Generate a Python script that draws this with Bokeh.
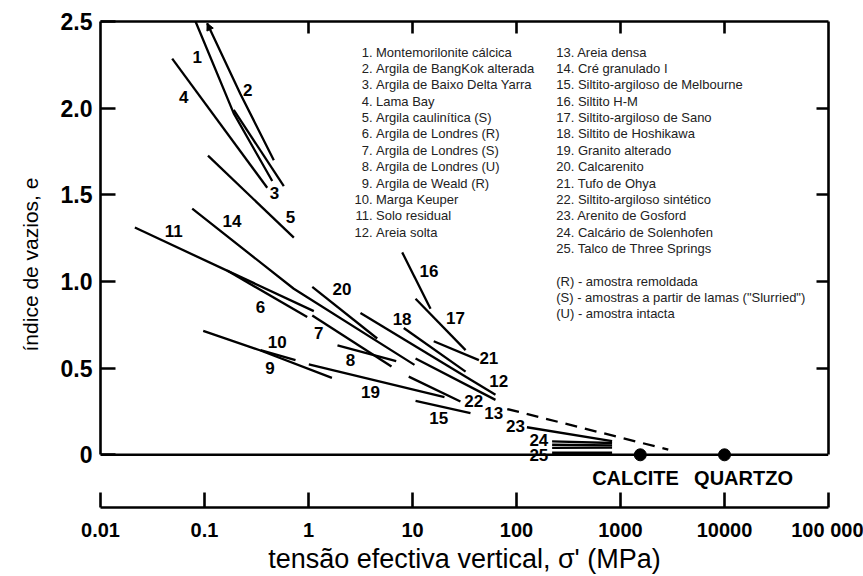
from bokeh.plotting import figure
from bokeh.models import (Range1d, LogAxis, LinearAxis, FixedTicker, Span,
                          ColumnDataSource, Arrow, NormalHead)
from bokeh.core.properties import value
from bokeh.embed import file_html
from bokeh.resources import INLINE

# ---------------- data (stress in MPa, void ratio e) ----------------
curve_names = ["1", "2", "3", "4", "5", "6", "7", "8", "9", "10", "11", "12",
               "13", "14", "15", "16", "17", "18", "19", "20", "21", "22",
               "23", "24a", "24b", "25a", "25b"]
curve_s = [
    [0.082, 0.191, 0.448],      # 1
    [0.106, 0.222, 0.464],      # 2
    [0.191, 0.579],             # 3
    [0.0489, 0.401],            # 4
    [0.108, 0.723],             # 5
    [0.165, 0.972],             # 6
    [1.087, 6.28],              # 7
    [1.90, 6.97],               # 8
    [0.0972, 0.3455, 1.68],     # 9
    [0.3455, 0.75],             # 10
    [0.0214, 1.125],            # 11
    [3.16, 62.8],               # 12
    [10.7, 62.8],               # 13
    [0.0762, 0.722, 10.45],     # 14
    [10.7, 36.1],               # 15
    [7.96, 14.9],               # 16
    [10.7, 32.4],               # 17
    [8.24, 32.4],               # 18
    [1.007, 20.3],              # 19
    [1.087, 4.58],              # 20
    [16.0, 43.5],               # 21
    [9.2, 28.9],                # 22
    [126, 830],                 # 23
    [220, 830],                 # 24
    [220, 830],                 # 24
    [220, 830],                 # 25
    [220, 830],                 # 25
]
curve_e = [
    [2.50, 1.97, 1.58],
    [2.49, 2.08, 1.70],
    [1.99, 1.55],
    [2.286, 1.541],
    [1.726, 1.253],
    [1.063, 0.795],
    [0.804, 0.510],
    [0.631, 0.541],
    [0.715, 0.602, 0.444],
    [0.604, 0.546],
    [1.311, 0.829],
    [0.818, 0.346],
    [0.556, 0.317],
    [1.420, 0.958, 0.519],
    [0.311, 0.241],
    [1.168, 0.843],
    [0.900, 0.604],
    [0.732, 0.480],
    [0.522, 0.333],
    [0.969, 0.671],
    [0.655, 0.546],
    [0.451, 0.308],
    [0.159, 0.079],
    [0.078, 0.068],
    [0.058, 0.054],
    [0.040, 0.042],
    [0.012, 0.012],
]

# extrapolated (dashed) trend
dash_s = [81.5, 2880]
dash_e = [0.264, 0.030]

# curve number labels
label_text = [str(i) for i in range(1, 26)]
label_s = [0.0849, 0.2606, 0.471, 0.0632, 0.671, 0.3455, 1.256, 2.53, 0.425,
           0.50, 0.0507, 67.6, 60.5, 0.184, 17.9, 14.4, 25.9, 7.94, 3.94,
           2.10, 54.2, 38.8, 97.7, 164, 164]
label_e = [2.295, 2.104, 1.512, 2.066, 1.372, 0.853, 0.700, 0.546, 0.499,
           0.652, 1.292, 0.423, 0.241, 1.349, 0.212, 1.059, 0.791, 0.786,
           0.361, 0.958, 0.556, 0.308, 0.165, 0.088, 0.0]

# minerals
mineral_names = ["CALCITE", "QUARTZO"]
mineral_s = [1550, 10000]
mineral_e = [0.0, 0.0]
mineral_label_s = [1393, 15250]
mineral_label_e = [-0.132, -0.132]

# legend
legend_col1 = ["Montemorilonite cálcica", "Argila de BangKok alterada",
               "Argila de Baixo Delta Yarra", "Lama Bay",
               "Argila caulinítica (S)", "Argila de Londres (R)",
               "Argila de Londres (S)", "Argila de Londres (U)",
               "Argila de Weald (R)", "Marga Keuper", "Solo residual",
               "Areia solta"]
legend_col2 = ["Areia densa", "Cré granulado I",
               "Siltito-argiloso de Melbourne", "Siltito H-M",
               "Siltito-argiloso de Sano", "Siltito de Hoshikawa",
               "Granito alterado", "Calcarenito", "Tufo de Ohya",
               "Siltito-argiloso sintético", "Arenito de Gosford",
               "Calcário de Solenhofen", "Talco de Three Springs"]
legend_notes = ["(R) - amostra remoldada",
                "(S) - amostras a partir de  lamas (\"Slurried\")",
                "(U) - amostra intacta"]

x_ticks = [0.01, 0.1, 1, 10, 100, 1000, 10000, 100000]
x_tick_labels = ["0.01", "0.1", "1", "10", "100", "1000", "10000", "100 000"]
y_ticks = [0, 0.5, 1, 1.5, 2, 2.5]
y_tick_labels = ["0", "0.5", "1.0", "1.5", "2.0", "2.5"]
top_ticks = [1, 10, 100, 1000, 10000]
right_ticks = [0.5, 1, 1.5, 2]

# ---------------- figure ----------------
FONT = "Liberation Sans"
p = figure(width=863, height=576, x_axis_type="log",
           x_range=Range1d(0.01, 100000), y_range=Range1d(-0.304, 2.5),
           output_backend="svg", toolbar_location=None,
           min_border_left=100, min_border_right=35, min_border_top=21,
           min_border_bottom=66)
p.outline_line_color = None
p.grid.visible = False
p.background_fill_color = "white"

AXW = 2.6


def key(v):
    return int(v) if float(v).is_integer() else v


xa = p.xaxis[0]
xa.ticker = FixedTicker(ticks=x_ticks)
xa.major_label_overrides = {key(t): l for t, l in zip(x_ticks, x_tick_labels)}
xa.major_tick_in = 15
xa.major_tick_out = 0
xa.minor_tick_line_color = None
xa.axis_line_width = AXW
xa.major_tick_line_width = AXW
xa.major_label_text_font = FONT
xa.major_label_text_font_style = "bold"
xa.major_label_text_font_size = "20px"
xa.major_label_text_color = "black"
xa.major_label_standoff = 11
xa.axis_label = "tensão efectiva vertical, σ' (MPa)"
xa.axis_label_text_font = FONT
xa.axis_label_text_font_style = "normal"
xa.axis_label_text_font_size = "27px"
xa.axis_label_text_color = "black"
xa.axis_label_standoff = 0

ya = p.yaxis[0]
ya.ticker = FixedTicker(ticks=y_ticks)
ya.major_label_overrides = {key(t): l for t, l in zip(y_ticks, y_tick_labels)}
ya.bounds = (0, 2.5)
ya.major_tick_in = 15
ya.major_tick_out = 0
ya.minor_tick_line_color = None
ya.axis_line_width = AXW
ya.major_tick_line_width = AXW
ya.major_label_text_font = FONT
ya.major_label_text_font_style = "bold"
ya.major_label_text_font_size = "23px"
ya.major_label_text_color = "black"
ya.major_label_standoff = 8
ya.axis_label = "índice de vazios, e"
ya.axis_label_text_font = FONT
ya.axis_label_text_font_style = "normal"
ya.axis_label_text_font_size = "21px"
ya.axis_label_text_color = "black"
ya.axis_label_standoff = 16

top = LogAxis(ticker=FixedTicker(ticks=top_ticks), major_tick_in=12,
              major_tick_out=0, minor_tick_line_color=None,
              axis_line_width=AXW, major_tick_line_width=AXW,
              major_label_overrides={t: " " for t in top_ticks},
              major_label_text_font_size="2px", major_label_standoff=0)
p.add_layout(top, "above")

right = LinearAxis(ticker=FixedTicker(ticks=right_ticks), bounds=(0, 2.5),
                   major_tick_in=12, major_tick_out=0,
                   minor_tick_line_color=None, axis_line_width=AXW,
                   major_tick_line_width=AXW,
                   major_label_overrides={key(t): " " for t in right_ticks},
                   major_label_text_font_size="2px", major_label_standoff=0)
p.add_layout(right, "right")

p.add_layout(Span(location=0, dimension="width", line_color="black",
                  line_width=AXW))

# curves
for s, e in zip(curve_s, curve_e):
    p.line(s, e, line_color="black", line_width=2.3)
p.line(dash_s, dash_e, line_color="black", line_width=2.3, line_dash="12 8")

# arrow at top of curve 2
p.add_layout(Arrow(end=NormalHead(size=7, fill_color="black", line_color="black"),
                   x_start=curve_s[1][1], y_start=curve_e[1][1],
                   x_end=curve_s[1][0], y_end=curve_e[1][0],
                   line_alpha=0))

# white gap behind label 25 on the base line
p.rect(x=[label_s[24]], y=[label_e[24]], width=26, height=18,
       width_units="screen", height_units="screen", fill_color="white",
       line_color=None)

# number labels
src = ColumnDataSource(dict(x=label_s, y=label_e, t=label_text))
p.text(x="x", y="y", text="t", source=src, text_align="center",
       text_baseline="middle", text_font=value(FONT), text_font_style="bold",
       text_font_size="17px", text_color="black")

# minerals
p.scatter(mineral_s, mineral_e, size=12, color="black")
p.text(x=mineral_label_s, y=mineral_label_e, text=mineral_names,
       text_align="center", text_baseline="middle", text_font=value(FONT),
       text_font_style="bold", text_font_size="20px", text_color="black")

# legend text
e0, de = 2.324, 0.0946
c1_num_x, c1_name_x, c2_x = 4.125, 4.457, 241
p.text(x=[c1_num_x] * len(legend_col1),
       y=[e0 - de * i for i in range(len(legend_col1))],
       text=[f"{i + 1}." for i in range(len(legend_col1))],
       text_align="right", text_baseline="middle", text_font=value(FONT),
       text_font_size="13px", text_color="#222222")
p.text(x=[c1_name_x] * len(legend_col1),
       y=[e0 - de * i for i in range(len(legend_col1))],
       text=legend_col1, text_align="left", text_baseline="middle",
       text_font=value(FONT), text_font_size="13px", text_color="#222222")
p.text(x=[c2_x] * len(legend_col2),
       y=[e0 - de * i for i in range(len(legend_col2))],
       text=[f"{i + 13}. {n}" for i, n in enumerate(legend_col2)],
       text_align="left", text_baseline="middle", text_font=value(FONT),
       text_font_size="13px", text_color="#222222")
p.text(x=[c2_x] * len(legend_notes), y=[1.002, 0.908, 0.8125],
       text=legend_notes, text_align="left", text_baseline="middle",
       text_font=value(FONT), text_font_size="13px", text_color="#222222")

open("out.html", "w").write(file_html(p, INLINE))
